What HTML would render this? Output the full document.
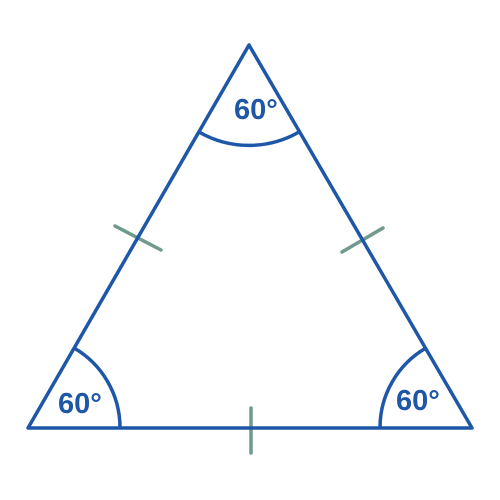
<!DOCTYPE html>
<html><head><meta charset="utf-8"><style>
html,body{margin:0;padding:0;background:#fff;width:500px;height:500px;overflow:hidden}
text{font-family:"Liberation Sans",sans-serif;font-size:29px;fill:#1f57a8;font-weight:bold}
</style></head><body>
<svg width="500" height="500" viewBox="0 0 500 500">
<g stroke="#6f9a8d" stroke-width="3.5" stroke-linecap="round" fill="none">
<line x1="115" y1="226" x2="161" y2="250"/>
<line x1="342" y1="252" x2="383" y2="228"/>
<line x1="251" y1="408" x2="251" y2="453"/>
</g>
<polygon points="249,45 28,428 472,428" fill="none" stroke="#1f57a8" stroke-width="3.5" stroke-linejoin="round"/>
<g fill="none" stroke="#1f57a8" stroke-width="3.5">
<path d="M199,132 A100,100 0 0 0 299,132"/>
<path d="M74,348 A92,92 0 0 1 120,428"/>
<path d="M426,348 A92,92 0 0 0 380,428"/>
</g>
<text x="234" y="119">60°</text>
<text x="58" y="413">60°</text>
<text x="396" y="410">60°</text>
</svg>
</body></html>
